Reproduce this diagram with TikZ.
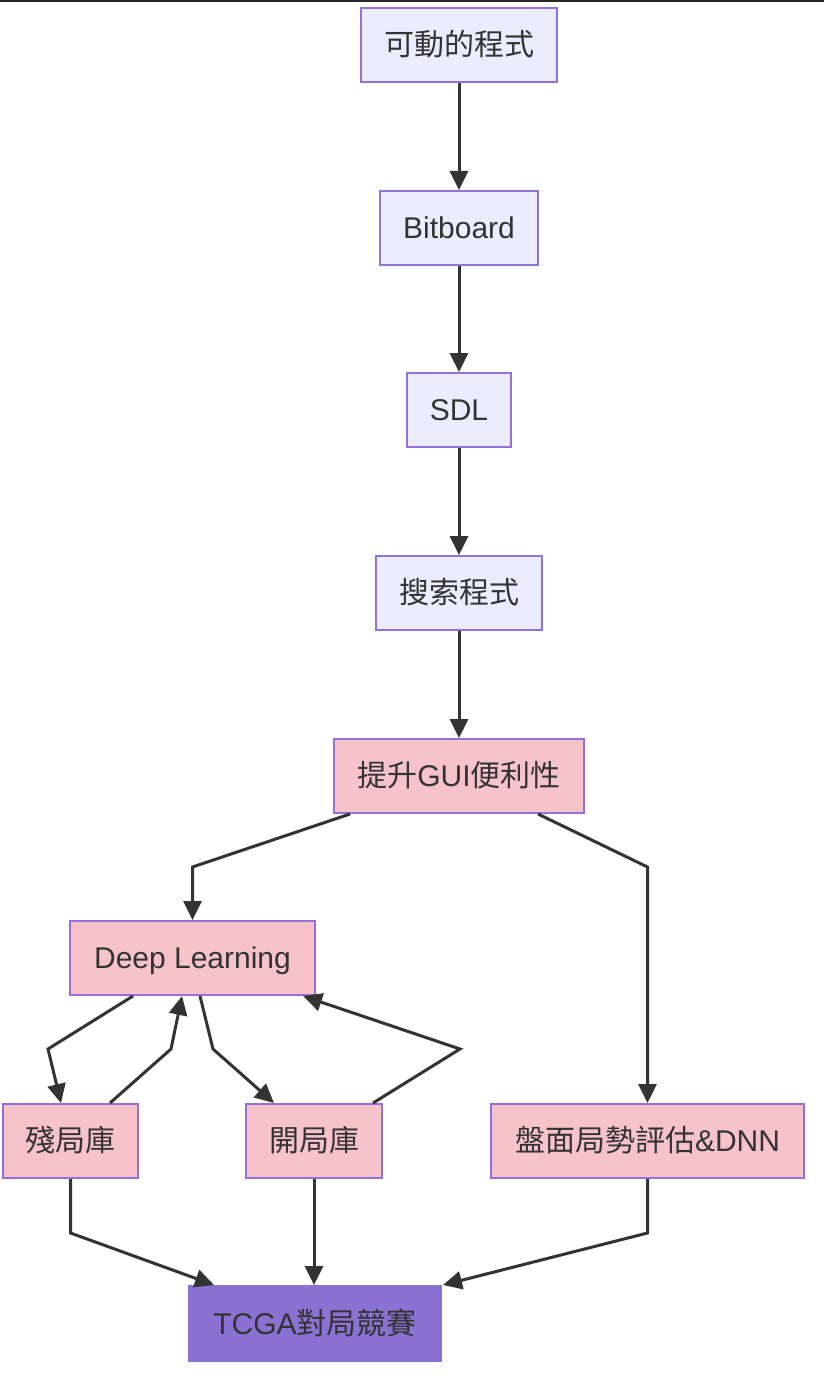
\documentclass[tikz,border=0pt]{standalone}
\usepackage{fontspec}
\setmainfont{Liberation Sans}
\newfontfamily\cjk{Noto Sans CJK TC}
\usetikzlibrary{arrows.meta,calc}
\definecolor{lav}{HTML}{ECECFF}
\definecolor{lavline}{HTML}{9370DB}
\definecolor{pinkf}{HTML}{F6C3CB}
\definecolor{purf}{HTML}{8B71D1}
\definecolor{txt}{HTML}{333333}
\definecolor{edge}{HTML}{333333}
\tikzset{
  box/.style={draw=lavline, line width=2pt, inner sep=0pt, text=txt,
    font=\fontsize{30}{36}\selectfont, minimum height=74pt, anchor=center,
    text height=25pt, text depth=3.5pt},
  lavbox/.style={box, fill=lav},
  pinkbox/.style={box, fill=pinkf},
  purbox/.style={box, fill=purf, draw=purf},
  conn/.style={draw=edge, line width=3pt, -{Triangle[length=19pt,width=18pt]}}
}
\begin{document}
\begin{tikzpicture}[x=1pt,y=-1pt]
\useasboundingbox (0,0) rectangle (824,1396);
\fill[white] (0,0) rectangle (824,1396);
\fill[black!85] (0,0) rectangle (824,2.5);
\node[lavbox, minimum width=196pt] (A) at (459,45) {\cjk 可動的程式};
\node[lavbox, minimum width=158pt] (B) at (459,228) {Bitboard};
\node[lavbox, minimum width=104pt] (C) at (459,410) {SDL};
\node[lavbox, minimum width=166pt] (D) at (459,593) {\cjk 搜索程式};
\node[pinkbox, minimum width=250pt] (E) at (459,776) {{\cjk 提升}GUI{\cjk 便利性}};
\node[pinkbox, minimum width=245pt] (F) at (192.5,958) {Deep Learning};
\node[pinkbox, minimum width=135pt] (G) at (70.5,1141) {\cjk 殘局庫};
\node[pinkbox, minimum width=136pt] (H) at (314,1141) {\cjk 開局庫};
\node[pinkbox, minimum width=313pt] (I) at (647.5,1141) {{\cjk 盤面局勢評估}\&DNN};
\node[purbox, minimum width=252pt, minimum height=75pt] (J) at (315,1323.5) {TCGA{\cjk 對局競賽}};

\draw[conn] (A.south) -- (B.north);
\draw[conn] (B.south) -- (C.north);
\draw[conn] (C.south) -- (D.north);
\draw[conn] (D.south) -- (E.north);
\draw[conn] ([xshift=17pt]E.south west) -- (192.5,867) -- (F.north);
\draw[conn] ([xshift=-47pt]E.south east) -- (647.5,867) -- (I.north);
\draw[conn] ([xshift=64pt]F.south west) -- (48,1049) -- ([xshift=59pt]G.north west);
\draw[conn] ([xshift=108pt]G.north west) -- (171,1049) -- ([xshift=113pt]F.south west);
\draw[conn] ([xshift=131pt]F.south west) -- (213,1049) -- ([xshift=29pt]H.north west);
\draw[conn] ([xshift=128pt]H.north west) -- (460,1049) -- ([xshift=-13pt]F.south east);
\draw[conn] (G.south) -- (70.5,1233) -- ([xshift=26pt]J.north west);
\draw[conn] (H.south) -- (H.south |- J.north);
\draw[conn] (I.south) -- (647.5,1233) -- ([xshift=1pt]J.north east);
\end{tikzpicture}
\end{document}
